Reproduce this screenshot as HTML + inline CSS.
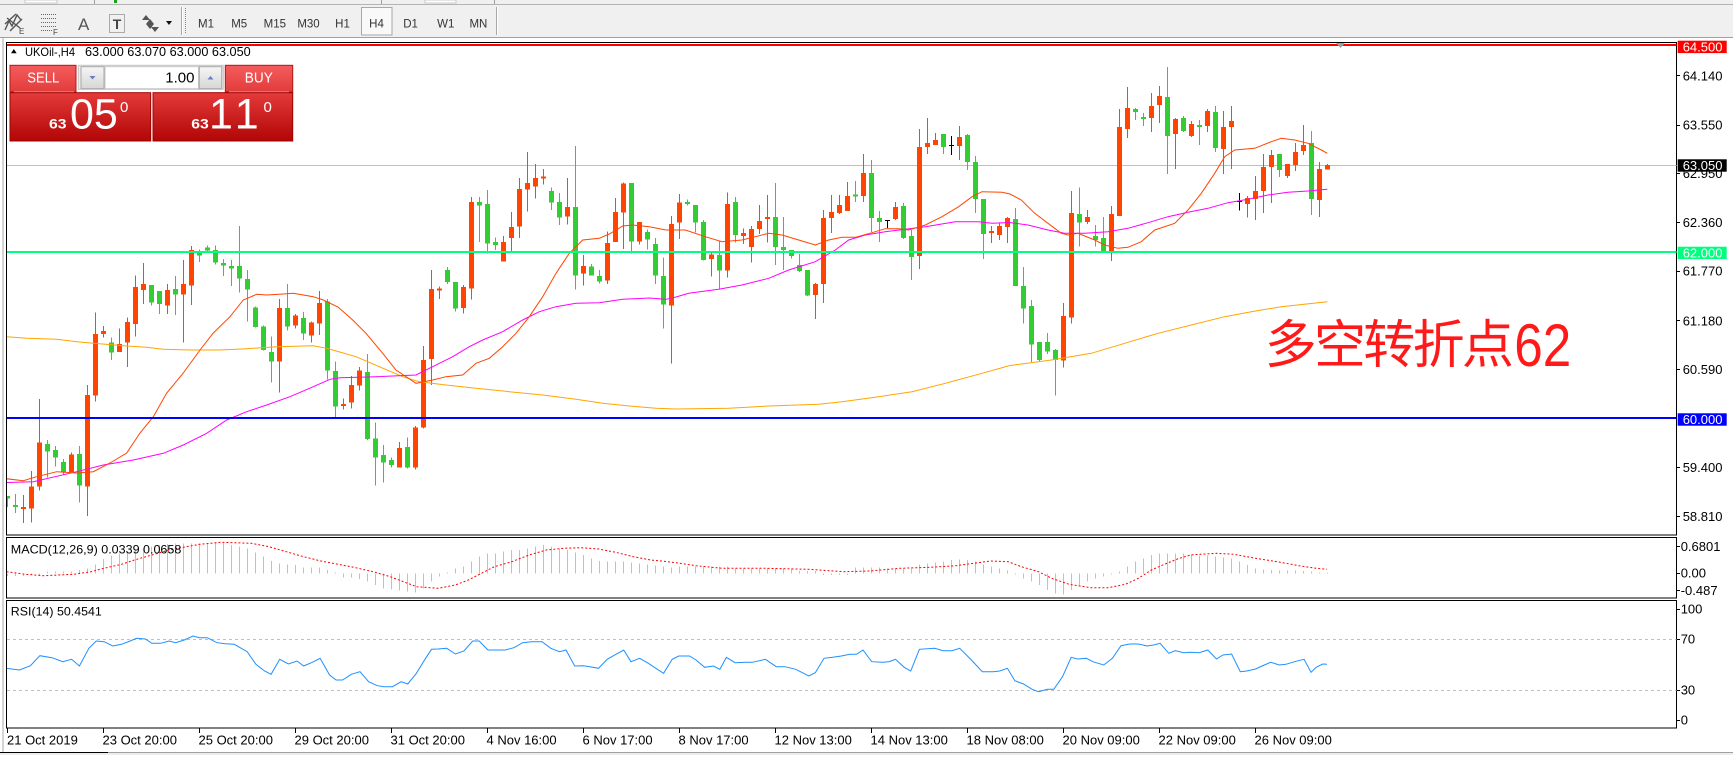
<!DOCTYPE html>
<html><head><meta charset="utf-8"><style>
html,body{margin:0;padding:0;background:#fff}
body{width:1733px;height:755px;overflow:hidden}
svg text{font-family:"Liberation Sans",sans-serif}
</style></head><body>
<svg width="1733" height="755" viewBox="0 0 1733 755" xmlns="http://www.w3.org/2000/svg">
<defs>
<clipPath id="cm"><rect x="7" y="43" width="1669.5" height="492"/></clipPath>
<clipPath id="cd"><rect x="7" y="538" width="1669.5" height="59.5"/></clipPath>
<clipPath id="cr"><rect x="7" y="601" width="1669.5" height="127"/></clipPath>
<linearGradient id="gTop" x1="0" y1="0" x2="0" y2="1"><stop offset="0" stop-color="#f55c5c"/><stop offset="1" stop-color="#e23c3c"/></linearGradient>
<linearGradient id="gLow" x1="0" y1="0" x2="0" y2="1"><stop offset="0" stop-color="#e43a3a"/><stop offset="1" stop-color="#b20606"/></linearGradient>
<linearGradient id="gBtn" x1="0" y1="0" x2="0" y2="1"><stop offset="0" stop-color="#f6f6f6"/><stop offset="1" stop-color="#d6d6d6"/></linearGradient>
</defs>

<!-- toolbar -->
<rect x="0" y="0" width="1733" height="37" fill="#f0f0f0"/>
<rect x="0" y="4" width="1733" height="1" fill="#b4b4b4"/>
<rect x="25" y="0" width="32" height="3" fill="#fff" stroke="#c8c8c8" stroke-width="1"/>
<rect x="425" y="0" width="31" height="3" fill="#fff" stroke="#c8c8c8" stroke-width="1"/>
<rect x="114" y="0" width="3" height="3" fill="#20a020"/>
<g stroke="#a0a0a0" stroke-width="1"><path d="M94.5 0V4M381.5 0V4M494.5 0V4"/></g>
<rect x="0" y="37" width="1733" height="1" fill="#a0a0a0"/>
<!-- icons -->
<g stroke="#555" stroke-width="1.4" fill="none">
<polyline points="5,30 9,21 12,26 17,15 21,20"/>
<path d="M7 18L20 28M5 24L16 14M10 31L22 19"/>
</g>
<text x="19" y="34" font-size="8" fill="#444">E</text>
<g stroke="#666" stroke-width="1" stroke-dasharray="1 1"><path d="M41 14.5H56M41 18.5H56M41 22.5H56M41 26.5H56M41 30.5H53"/></g>
<text x="53" y="35" font-size="8" fill="#444">F</text>
<text x="78" y="30" font-size="17" fill="#555">A</text>
<rect x="109.5" y="14.5" width="15" height="18" fill="none" stroke="#666" stroke-dasharray="1 1"/>
<text x="117" y="29" font-size="14" font-weight="bold" fill="#444" text-anchor="middle">T</text>
<polygon points="146,15 150,20 142,20" fill="#555"/>
<polygon points="146,24 150,19 154,24 150,29" fill="#555"/>
<polygon points="155,32 159,27 151,27" fill="#555"/>
<polygon points="166,21 172,21 169,25" fill="#111"/>
<rect x="181" y="7" width="1" height="28" fill="#a8a8a8"/><rect x="182" y="7" width="1" height="28" fill="#fff"/>
<path d="M185.5 8V34" stroke="#888" stroke-dasharray="1 1"/>
<rect x="361.5" y="7.5" width="30.5" height="27.5" fill="#f9f9f9" stroke="#a8a8a8"/>
<g font-size="11.5" fill="#333" text-anchor="middle">
<text x="206" y="27.3">M1</text><text x="239.2" y="27.3">M5</text><text x="274.8" y="27.3">M15</text>
<text x="308.5" y="27.3">M30</text><text x="342.5" y="27.3">H1</text><text x="376.5" y="27.3">H4</text>
<text x="410.6" y="27.3">D1</text><text x="445.8" y="27.3">W1</text><text x="478.4" y="27.3">MN</text>
</g>
<rect x="496" y="7" width="1" height="28" fill="#a8a8a8"/><rect x="497" y="7" width="1" height="28" fill="#fff"/>

<!-- window frame -->
<rect x="2.5" y="38" width="1" height="715" fill="#a8a8a8"/>
<g fill="none" stroke="#000" stroke-width="1" shape-rendering="crispEdges">
<rect x="6.5" y="42.5" width="1670" height="492.5"/>
<rect x="6.5" y="537.5" width="1670" height="60.5"/>
<rect x="6.5" y="600.5" width="1670" height="127.5"/>
</g>

<!-- main chart -->
<g clip-path="url(#cm)">
<rect x="7" y="165" width="1670" height="1" fill="#c0c0c0"/>
<g shape-rendering="crispEdges" fill="none">
<path stroke="#ff4500" stroke-width="1" d="M23.5 495V523M31.5 471V522.7M39.5 399V490.7M71.5 452.7V472.7M87.5 385V516M95.5 312.7V401.7M103.5 326V337.3M119.5 328.7V352M127.5 317.3V367M135.5 275.7V336.7M143.5 263V304M167.5 284V314M183.5 260V342.7M191.5 246V305M279.5 299V392.7M295.5 314V328.7M311.5 321.3V342.7M319.5 291V335M343.5 398.3V409.3M351.5 376V408.3M359.5 367V390.7M399.5 442V467.7M415.5 426V469.3M423.5 346V428.3M431.5 270V385M439.5 286.7V299M463.5 285V313.7M471.5 197V299.7M503.5 236V261.7M511.5 212V251M519.5 178V238M527.5 152V211.7M535.5 164V198.7M543.5 169V184.7M567.5 178V224.7M583.5 255V285.7M607.5 231.3V284M615.5 198V242M623.5 182.7V249M639.5 222V244.7M671.5 216V363.7M679.5 194V239M711.5 252V276.7M727.5 192.3V277.7M743.5 228.3V244M751.5 226V262.7M759.5 205V234M767.5 195V242.7M815.5 283V319M823.5 210V303M831.5 195V233M839.5 195V214M847.5 182V211M863.5 154V202M895.5 202V220M919.5 129V269M927.5 118V154M935.5 133V145M959.5 126V160M991.5 226V243M999.5 223V240M1007.5 217V243M1063.5 303V367.7M1071.5 191V323.7M1087.5 210V224M1111.5 206V261M1119.5 109V216M1127.5 87V138M1151.5 93V132M1159.5 86V123M1175.5 118V169M1191.5 121V137M1207.5 109V132M1223.5 111V174M1231.5 106V169M1247.5 196V217.7M1255.5 176V220M1263.5 154V213M1271.5 150V203M1287.5 164V178M1295.5 143V171M1303.5 125V155M1319.5 162V217M1327.5 164V169.7"/>
<path stroke="#ff4500" stroke-width="5" d="M23.5 507V509M31.5 486.7V508.7M39.5 442.7V486.7M71.5 454.7V472M87.5 395V486.7M95.5 334V395.7M103.5 331V334M119.5 344V352M127.5 322V342.7M135.5 287V324M143.5 284V290M167.5 290V305.7M183.5 284V294.7M191.5 250V285.7M279.5 308V361.7M295.5 315.7V325.7M311.5 322.7V335.7M319.5 303V323.7M343.5 404V406M351.5 385V402.7M359.5 370.7V385.7M399.5 448V467.7M415.5 427.7V467.7M423.5 360V427.7M431.5 289V359M439.5 288.5V290.7M463.5 287V308M471.5 202V288.7M503.5 242V261.7M511.5 227V238M519.5 189V226.7M527.5 183V189.7M535.5 178V186.7M543.5 176.5V178.7M567.5 207V216.7M583.5 266V273.7M607.5 243V280.7M615.5 212V242M623.5 183.7V212.7M639.5 222V241.7M671.5 224V305.7M679.5 202.3V222.7M711.5 254.3V259M727.5 204V270.7M743.5 233V236M751.5 229V247M759.5 221V229M767.5 217V219M815.5 284V295M823.5 218V284M831.5 212V218M839.5 205V213M847.5 196V211M863.5 173V196M895.5 207V219M919.5 147V256M927.5 143V147M935.5 140V145M959.5 137V146M991.5 231V233M999.5 226V235M1007.5 218V227M1063.5 316V360.7M1071.5 213V317.7M1087.5 217V222M1111.5 214V252M1119.5 127V216M1127.5 108V129M1151.5 106V118M1159.5 96V105M1175.5 119V134M1191.5 124V136M1207.5 111V126M1223.5 127V149M1231.5 121V127M1247.5 198V204M1255.5 191V199M1263.5 167V191M1271.5 155V167M1287.5 164V176M1295.5 152V165M1303.5 145V151M1319.5 169V200M1327.5 165V169.7"/>
<path stroke="#32cd32" stroke-width="1" d="M7.5 496.7V507M15.5 494V513M47.5 440V477.3M55.5 446V466.7M63.5 459V475M79.5 446V502.7M111.5 337.7V360M151.5 285V305.7M159.5 291V314M175.5 276V315M199.5 249.3V262M207.5 245.3V251.3M215.5 245.3V264.7M223.5 259V276M231.5 260V286M239.5 226V292.7M247.5 270V321.7M255.5 306.7V327.7M263.5 325.7V350.7M271.5 336.7V382.7M287.5 284V330.7M303.5 312V340M327.5 299V379.3M335.5 361.7V418.3M367.5 354V440M375.5 422.7V485.7M383.5 445V482.7M391.5 457.3V467.7M407.5 437.7V468.3M447.5 267V284M455.5 282V311.7M479.5 197V242M487.5 190V253.7M495.5 237.3V250M551.5 187.7V210M559.5 193V225M575.5 146V289.7M591.5 264V275.7M599.5 270V283.3M631.5 183V253.7M647.5 229.7V249.7M655.5 238V284M663.5 257.7V328.7M687.5 199.3V205.7M695.5 205V232.3M703.5 220V260.7M719.5 241V289.3M735.5 197V242.3M775.5 183V265M783.5 217V270M791.5 250V258.3M799.5 254V272M807.5 270V296M855.5 181V202M871.5 160V232M879.5 211V242M903.5 203V239M911.5 230V280M943.5 134V154M967.5 134V170M975.5 156V213M983.5 199V259M1015.5 208V286M1023.5 267V323.7M1031.5 300V362M1039.5 342V361.7M1047.5 333V354M1055.5 349V395.7M1079.5 187.7V246.7M1095.5 225V246.7M1103.5 217V253M1135.5 108V120M1143.5 113V126M1167.5 67V174M1183.5 116V132M1199.5 120V145M1215.5 106V152M1279.5 154V177M1311.5 131V215"/>
<path stroke="#32cd32" stroke-width="5" d="M7.5 496V498.5M15.5 505V507M47.5 444V451.7M55.5 450V457.7M63.5 462V472M79.5 454V485.3M111.5 342.7V352.7M151.5 285V302.7M159.5 291V304M175.5 289V294.7M199.5 251.3V255.7M207.5 247.3V250.7M215.5 250V262.7M223.5 263V265.7M231.5 266V268.7M239.5 266V278.7M247.5 279V289.7M255.5 307.7V327M263.5 326.7V350M271.5 352V361.7M287.5 308V326.7M303.5 318V333.7M327.5 301.7V370.7M335.5 371V406.7M367.5 372V439M375.5 438.3V457.7M383.5 455V462.7M391.5 460V465M407.5 447V467.7M447.5 270V282M455.5 282V308.7M479.5 202V205.7M487.5 204V243.7M495.5 242V245M551.5 191V202.7M559.5 202V217.7M575.5 207V275.7M591.5 266.7V275.7M599.5 276V281.7M631.5 183V241.7M647.5 232V239.7M655.5 244V275.7M663.5 276V304.7M687.5 202V204M695.5 205V222.7M703.5 222V260M719.5 255V270.7M735.5 202V235M775.5 217V247M783.5 247V250M791.5 250V256M799.5 265V271M807.5 270V295.3M855.5 194.5V196.7M871.5 173V218M879.5 218V222M903.5 206V238M911.5 236V257M943.5 134V147M967.5 135V162M975.5 162V199M983.5 199V234M1015.5 219V286M1023.5 286V308.7M1031.5 306V344.7M1039.5 342V360M1047.5 342V351.7M1055.5 350V360M1079.5 214V222.7M1095.5 236V240M1103.5 238V252M1135.5 109V112M1143.5 117V119M1167.5 97V136M1183.5 118V131M1199.5 125V127M1215.5 112V148M1279.5 154V170M1311.5 143V199"/>
<path stroke="#000" stroke-width="1" d="M887.5 220V228M951.5 136V155M1239.5 193V210.7M885 220.5H890M949 145.5H954M1237 201.5H1242"/>
</g>
<g fill="none" stroke-width="1">
<polyline stroke="#ffa500" points="6.7,336.7 26.7,338.3 56.7,339.3 76.7,341.7 93.3,343.3 126.7,346 146.7,347.3 163.3,349.3 190,350 220,350 246.7,348.7 276.7,346.7 313.3,345.7 326.7,348.3 338,351.5 356,356.7 379.3,366.7 402.7,376.7 419.3,381.7 446,385 476,388.3 509.3,391.7 542.7,395 576,399.3 602.7,403.3 629.3,406 656,408.3 676,409 728.7,408.3 768.7,406 818.7,404.3 842,401.7 878.7,396.7 912,391.7 945.3,383.3 982,373.3 1010,365.5 1051.3,360 1091.3,353.3 1124.7,343.3 1158,333.3 1191.3,325 1224.7,316.7 1251.3,311.7 1281.3,306.7 1327.3,301.7"/>
<polyline stroke="#ff00ff" points="0,482.7 33.3,481.7 76.7,471.7 103.3,465 133.3,460 163.3,453.3 183.3,445 206.7,433.3 226.7,420 246.7,411.7 266.7,405 290,396.7 313.3,386.7 330,379.3 340,377.7 376,376.7 416,375 432.7,366.7 452.7,356.7 469.3,346.7 482.7,340 502.7,331.7 522.7,320 539.3,311.7 556,306.7 576,303.3 599.3,302.7 622.7,299.3 649.3,298 666,299.3 676,297 688.7,293.3 718.7,289.3 742,285 768.7,278.3 788.7,270 815.3,261.7 835.3,250 848.7,240 865.3,235 885.3,231.7 905.3,229.3 925.3,226.7 955.3,221.7 978.7,221.7 992,223.3 1010,222.5 1028,225 1048,230 1064.7,233.3 1084.7,233.3 1108,231.7 1128,228.3 1148,222.7 1168,216.7 1188,212.3 1208,208.3 1228,202.7 1248,199.3 1268,195 1288,192.3 1308,191 1327.3,189.3"/>
<polyline stroke="#ff4500" points="0,478 23.3,480.7 36.7,476.7 56.7,471.7 76.7,473 93.3,471.7 110,463 126.7,453 140,433 153.3,416.7 166.7,393 183.3,373 200,350 213.3,333 230,316.7 243.3,300 256.7,294.3 266.7,295 283.3,294 293.3,293.3 303.3,295 313.3,296.7 323.3,300 338,307 352.7,320 366,333.3 382.7,353.3 396,370 416,383.3 432.7,380 446,376.7 462.7,375 476,363.3 489.3,358.3 502.7,346.7 516,333.3 529.3,316.7 542.7,296.7 556,273.3 569.3,253.3 582.7,240 599.3,238.3 609.3,234 622.7,226 632.7,225 649.3,226.7 666,230 685.3,230 705.3,236.7 722,241.7 742,240 755.3,236.7 768.7,233.3 782,235 798.7,240 815.3,245 828.7,240 842,237.3 855.3,237.3 872,232.7 885.3,228.7 898.7,228.7 908.7,230 925.3,225 942,216.7 958.7,206.7 972,196.7 982,191.7 1002,192.3 1010,194 1021.3,200 1034.7,213.3 1048,223.3 1061.3,233.3 1068,235 1078,233.3 1094.7,240 1104.7,245 1118,248.3 1128,247.3 1141.3,241.7 1154.7,230 1174.7,223.3 1188,210 1201.3,193.3 1214.7,173.3 1224.7,156.7 1234.7,150 1254.7,148.3 1271.3,141.7 1281.3,138.3 1294.7,140 1308,143.3 1321.3,150 1327.3,153.3"/>
</g>
<g shape-rendering="crispEdges">
<rect x="7" y="44" width="1670" height="2" fill="#ff0000"/>
<rect x="7" y="251" width="1670" height="2" fill="#00ff7f"/>
<rect x="7" y="417" width="1670" height="2" fill="#0000ff"/>
</g>
<polygon points="1336,43 1345,43 1340.5,48" fill="#a0a0a0"/>
</g>

<!-- header & one-click panel -->
<polygon points="11,53.3 16.7,53.3 13.85,49" fill="#000"/>
<text x="25" y="56" font-size="12" textLength="50" lengthAdjust="spacingAndGlyphs">UKOil-,H4</text>
<text x="85" y="56" font-size="12.5" textLength="165.7" lengthAdjust="spacingAndGlyphs">63.000 63.070 63.000 63.050</text>

<rect x="10" y="65.3" width="66" height="26.7" fill="url(#gTop)" stroke="#b01818" stroke-width="1"/>
<rect x="225.3" y="65.3" width="67.4" height="26.7" fill="url(#gTop)" stroke="#b01818" stroke-width="1"/>
<rect x="14" y="91.5" width="60" height="1" fill="#f4a0a0"/>
<rect x="229" y="91.5" width="60" height="1" fill="#f4a0a0"/>
<rect x="10" y="92.7" width="140.7" height="48.3" fill="url(#gLow)" stroke="#a00000" stroke-width="1"/>
<rect x="153" y="92.7" width="139.7" height="48.3" fill="url(#gLow)" stroke="#a00000" stroke-width="1"/>
<rect x="78.3" y="65.3" width="145" height="24" fill="#ececec" stroke="#c4c4c4" stroke-width="1"/>
<rect x="105" y="66.7" width="93.5" height="22" fill="#fff" stroke="#c8c8c8" stroke-width="1"/>
<rect x="81" y="66.7" width="23" height="22" fill="url(#gBtn)" stroke="#a8a8a8" stroke-width="1"/>
<rect x="199.3" y="66.7" width="22.4" height="22" fill="url(#gBtn)" stroke="#a8a8a8" stroke-width="1"/>
<polygon points="89.5,76 95.5,76 92.5,79.5" fill="#6a7cc0"/>
<polygon points="207.5,79.5 213.5,79.5 210.5,76" fill="#6a7cc0"/>
<text x="194.5" y="82.7" font-size="15" text-anchor="end">1.00</text>
<text x="27.3" y="82.7" font-size="14.5" fill="#fff" textLength="32" lengthAdjust="spacingAndGlyphs">SELL</text>
<text x="244.8" y="82.7" font-size="14.5" fill="#fff" textLength="28" lengthAdjust="spacingAndGlyphs">BUY</text>
<g fill="#fff">
<text x="49" y="128.7" font-size="13.5" font-weight="bold" textLength="17.5" lengthAdjust="spacingAndGlyphs">63</text>
<text x="70" y="128.7" font-size="43">05</text>
<text x="120" y="112" font-size="15">0</text>
<text x="191.3" y="128.7" font-size="13.5" font-weight="bold" textLength="17.5" lengthAdjust="spacingAndGlyphs">63</text>
<text x="209" y="128.7" font-size="43" letter-spacing="5">11</text>
<text x="263.5" y="112" font-size="15">0</text>
</g>

<!-- chinese annotation -->
<text x="1264.7" y="363" font-size="52" letter-spacing="-2.7" fill="#ff1a1a" style='font-family:"Noto Sans CJK SC","WenQuanYi Zen Hei",sans-serif'>多空转折点</text>
<text x="1514.3" y="366" font-size="60" fill="#ff1a1a" textLength="57" lengthAdjust="spacingAndGlyphs">62</text>

<!-- right price axis -->
<g stroke="#000" stroke-width="1" shape-rendering="crispEdges">
<path d="M1677 75.5H1680M1677 125.5H1680M1677 173.5H1680M1677 222.5H1680M1677 271.5H1680M1677 320.5H1680M1677 369.5H1680M1677 467.5H1680M1677 516.5H1680"/>
<path d="M1677 546.5H1680M1677 573.5H1680M1677 590.5H1680M1677 609.5H1680M1677 639.5H1680M1677 690.5H1680M1677 720.5H1680"/>
</g>
<g font-size="13" fill="#000">
<text x="1682.7" y="80.3">64.140</text>
<text x="1682.7" y="129.6">63.550</text>
<text x="1682.7" y="177.9">62.950</text>
<text x="1682.7" y="226.9">62.360</text>
<text x="1682.7" y="275.6">61.770</text>
<text x="1682.7" y="325.3">61.180</text>
<text x="1682.7" y="373.9">60.590</text>
<text x="1682.7" y="471.9">59.400</text>
<text x="1682.7" y="520.9">58.810</text>
<text x="1680.7" y="551">0.6801</text>
<text x="1680.7" y="577.5">0.00</text>
<text x="1680.7" y="595">-0.487</text>
<text x="1680.7" y="613.5">100</text>
<text x="1680.7" y="643.3">70</text>
<text x="1680.7" y="694.5">30</text>
<text x="1680.7" y="724.3">0</text>
</g>
<rect x="1677.7" y="40.7" width="49" height="12.4" fill="#ff0000"/>
<rect x="1677.7" y="159.3" width="49" height="12.4" fill="#000"/>
<rect x="1677.7" y="246.7" width="49" height="12.4" fill="#00ff7f"/>
<rect x="1677.7" y="413.3" width="49" height="12.4" fill="#0000ff"/>
<g font-size="13" fill="#fff">
<text x="1682.7" y="51.3">64.500</text>
<text x="1682.7" y="169.9">63.050</text>
<text x="1682.7" y="257.3">62.000</text>
<text x="1682.7" y="424">60.000</text>
</g>

<!-- MACD -->
<g clip-path="url(#cd)">
<path fill="none" stroke="#c0c0c0" stroke-width="1" shape-rendering="crispEdges" d="M7.5 573.3V576M15.5 573.3V576M23.5 573.3V576M31.5 573.3V575M39.5 573.3V575M47.5 573.3V571.5M55.5 573.3V571.5M63.5 573.3V571.5M71.5 573.3V571.5M79.5 573.3V570M87.5 573.3V568.3M95.5 573.3V564.3M103.5 573.3V559M111.5 573.3V555.7M119.5 573.3V553.3M127.5 573.3V551.7M135.5 573.3V550M143.5 573.3V548.3M151.5 573.3V546.7M159.5 573.3V545M167.5 573.3V544M175.5 573.3V543.3M183.5 573.3V543.3M191.5 573.3V543.3M199.5 573.3V543.3M207.5 573.3V543M215.5 573.3V542.7M223.5 573.3V543M231.5 573.3V545M239.5 573.3V546.7M247.5 573.3V548.3M255.5 573.3V552.3M263.5 573.3V556.7M271.5 573.3V561M279.5 573.3V563.3M287.5 573.3V564.3M295.5 573.3V565M303.5 573.3V567.3M311.5 573.3V567.7M319.5 573.3V567.7M327.5 573.3V570M335.5 573.3V572.3M343.5 573.3V577.7M351.5 573.3V577.7M359.5 573.3V579M367.5 573.3V581.7M375.5 573.3V585M383.5 573.3V588.3M391.5 573.3V589.3M399.5 573.3V590.7M407.5 573.3V591.7M415.5 573.3V592.3M423.5 573.3V588.3M431.5 573.3V581.7M439.5 573.3V576.7M447.5 573.3V572.7M455.5 573.3V568.3M463.5 573.3V566.7M471.5 573.3V561.7M479.5 573.3V556.7M487.5 573.3V553.3M495.5 573.3V553.3M503.5 573.3V551.7M511.5 573.3V550M519.5 573.3V550M527.5 573.3V548.3M535.5 573.3V546.7M543.5 573.3V545M551.5 573.3V546.7M559.5 573.3V548.3M567.5 573.3V550M575.5 573.3V552.3M583.5 573.3V555M591.5 573.3V558.3M599.5 573.3V561M607.5 573.3V561.7M615.5 573.3V561.7M623.5 573.3V561.7M631.5 573.3V562.3M639.5 573.3V563.3M647.5 573.3V564.3M655.5 573.3V565.7M663.5 573.3V566.7M671.5 573.3V567.7M679.5 573.3V566.7M687.5 573.3V566.7M695.5 573.3V566.7M703.5 573.3V566.7M711.5 573.3V566.7M719.5 573.3V566.7M727.5 573.3V566.7M735.5 573.3V568.3M743.5 573.3V568.3M751.5 573.3V568.3M759.5 573.3V568.3M767.5 573.3V568.3M775.5 573.3V568.3M783.5 573.3V568.3M791.5 573.3V568.3M799.5 573.3V571M807.5 573.3V571M815.5 573.3V571M823.5 573.3V575M831.5 573.3V575M839.5 573.3V575M847.5 573.3V575M855.5 573.3V567.3M863.5 573.3V567.3M871.5 573.3V567.3M879.5 573.3V567.3M887.5 573.3V568.3M895.5 573.3V568.3M903.5 573.3V568.3M911.5 573.3V568.3M919.5 573.3V564.3M927.5 573.3V563.3M935.5 573.3V562.3M943.5 573.3V561.7M951.5 573.3V560M959.5 573.3V559.7M967.5 573.3V560M975.5 573.3V561.7M983.5 573.3V564.3M991.5 573.3V566.7M999.5 573.3V568.3M1007.5 573.3V570.7M1015.5 573.3V574.5M1023.5 573.3V578.3M1031.5 573.3V581.7M1039.5 573.3V585M1047.5 573.3V590M1055.5 573.3V593.3M1063.5 573.3V594.3M1071.5 573.3V590M1079.5 573.3V585M1087.5 573.3V581.7M1095.5 573.3V578.3M1103.5 573.3V576.7M1111.5 573.3V574.3M1119.5 573.3V571.7M1127.5 573.3V566.7M1135.5 573.3V561.7M1143.5 573.3V558.3M1151.5 573.3V555M1159.5 573.3V553.3M1167.5 573.3V553.3M1175.5 573.3V553.3M1183.5 573.3V553.3M1191.5 573.3V554.3M1199.5 573.3V555.7M1207.5 573.3V555.7M1215.5 573.3V556.7M1223.5 573.3V557.7M1231.5 573.3V558.3M1239.5 573.3V561.7M1247.5 573.3V565M1255.5 573.3V568.3M1263.5 573.3V569.3M1271.5 573.3V570M1279.5 573.3V570.7M1287.5 573.3V570.3M1295.5 573.3V570.7M1303.5 573.3V571M1311.5 573.3V571.7M1319.5 573.3V572.3M1327.5 573.3V572.3"/>
<polyline fill="none" stroke="#ff0000" stroke-width="1" stroke-dasharray="2 2" points="6.5,571.7 26,574.3 43.4,575.7 73.7,574.3 91,571.7 104,568.3 121.4,564.3 134.4,560 151.8,555 169,550 186.5,546.7 199.5,544.3 221.2,542.3 251.5,543.3 268.9,546.7 286.2,551.7 303.6,556.7 320.9,561 338.3,564.3 355.6,567.7 373,571.7 390.3,576.7 403.3,581.7 416.8,586.7 438,588.3 455.4,585 468.4,580 481.4,573.3 494.4,566.7 511.8,561.7 529.1,555 546.4,550 563.8,548.3 581.2,547.7 598.5,549 615.8,552.3 633.2,556.7 650.5,560 668,561.7 680,563.3 696,565.7 722,568.3 765.4,568.3 808.8,569.3 843.5,571.7 869.5,571 899.9,568.3 930.2,567.3 956.2,565.7 973.6,563.3 991,561 1008.3,561.7 1021.3,566.7 1038.6,571.7 1051.7,578.3 1069,584.3 1090.7,587.7 1108,587.7 1125.4,584.3 1138.4,578.3 1151.4,570 1164.4,564.3 1177.4,559 1190.4,555 1216.4,553.3 1233.8,554.3 1255.5,558.3 1277.2,561.7 1298.9,565.7 1316.2,568.3 1327,569.3"/>
</g>
<text x="10.8" y="553.3" font-size="12" textLength="170.5" lengthAdjust="spacingAndGlyphs">MACD(12,26,9) 0.0339 0.0658</text>

<!-- RSI -->
<g clip-path="url(#cr)">
<path d="M7 639.5H1677M7 690.5H1677" stroke="#c0c0c0" stroke-width="1" stroke-dasharray="3 3" fill="none"/>
<polyline fill="none" stroke="#1e90ff" stroke-width="1" points="6.5,668.3 19.5,670 30.4,665.7 39.9,655.7 52,657.7 62.9,661.7 71.6,659.3 79.4,666 88.9,648.3 96.3,641 104.1,641.7 112.8,646 121.4,644.3 130.1,641 136.6,638.3 145.3,639 151.8,643.3 160.5,643.3 169.1,641 175.6,642.7 184.3,640 193,636 199.5,637.7 207.3,637.7 216.9,642.7 225.5,643.7 234.2,644.3 247.2,651.7 255.9,664.3 264.6,671 271.1,674.3 279.7,659.3 288.4,664 297.1,661 303.6,666 312.3,662.3 320.1,658.3 329.6,675 336.1,680 342.6,680 351.3,674.3 360,671.7 368.6,681.7 377.3,685.7 383.8,686.7 392.5,686.7 401.2,681.7 407.7,684 416.4,673.3 425,659.3 431.5,649.3 438,649 446.7,648.3 455.4,654 464,651 472.7,641 479.2,641 487.9,650 496.6,650 505.3,650 513.9,647.7 522.6,642.7 531.3,641.7 542.1,641.7 550.8,648.3 559.5,651.7 566,650 574.7,666 583.3,665.7 589.8,666.7 598.5,668.3 607.2,659.3 615.9,654.3 623.7,650 631,661.7 639.7,658.3 648.4,663.3 654.9,667.7 663.6,673.3 672.2,659.3 678.7,656 689.5,656 696,660 704.7,667.3 713.4,666 719.9,669.3 726.4,657.3 735.1,662.7 745.9,662.3 752.4,662.3 765.4,659.3 776.3,666.7 784.9,666.7 795.8,669.3 808.8,676 815.3,672.7 824,658.3 832.6,657.3 841.3,656 850,654.3 856.5,654.3 863,650 871.7,661.7 882.5,662.3 889,661.7 895.5,659.3 904.2,667.3 910.7,671 919.4,649.3 934.6,648.3 943.2,650.7 951.9,650.7 959.7,648.3 971.4,660 982.3,671.7 993.1,671.7 999.6,671 1007.4,668.3 1014.8,680.7 1023.5,684 1032.1,689.3 1038.6,691.7 1047.3,689.3 1053.8,689.3 1062.5,676.7 1071.2,657.3 1077.7,659 1086.4,658.3 1092.9,661.7 1103.7,665 1112.4,658.3 1121,645.7 1129.7,644 1138.4,644 1147.1,646 1153.6,645 1160.1,643.3 1168.8,653.3 1175.3,650.7 1183.9,652.7 1190.4,652.3 1199.1,652.7 1207.8,650 1216.5,659 1223,655 1231.6,654 1240.3,671.7 1246.8,671 1255.5,669 1262,666 1270.7,662.3 1279.3,665 1285.9,664.3 1294.5,661.7 1304.1,659.3 1311,672.3 1316.2,667.3 1322.7,664 1327,664.3"/>
</g>
<text x="10.8" y="615.7" font-size="12" textLength="91" lengthAdjust="spacingAndGlyphs">RSI(14) 50.4541</text>

<!-- time axis -->
<path d="M7.5 728V733M103.5 728V733M199.5 728V733M295.5 728V733M391.5 728V733M487.5 728V733M583.5 728V733M679.5 728V733M775.5 728V733M871.5 728V733M967.5 728V733M1063.5 728V733M1159.5 728V733M1255.5 728V733" stroke="#000" stroke-width="1" shape-rendering="crispEdges"/>
<g font-size="13" fill="#000">
<text x="7" y="744.3">21 Oct 2019</text>
<text x="102.5" y="744.3">23 Oct 20:00</text>
<text x="198.5" y="744.3">25 Oct 20:00</text>
<text x="294.5" y="744.3">29 Oct 20:00</text>
<text x="390.5" y="744.3">31 Oct 20:00</text>
<text x="486.5" y="744.3">4 Nov 16:00</text>
<text x="582.5" y="744.3">6 Nov 17:00</text>
<text x="678.5" y="744.3">8 Nov 17:00</text>
<text x="774.5" y="744.3">12 Nov 13:00</text>
<text x="870.5" y="744.3">14 Nov 13:00</text>
<text x="966.5" y="744.3">18 Nov 08:00</text>
<text x="1062.5" y="744.3">20 Nov 09:00</text>
<text x="1158.5" y="744.3">22 Nov 09:00</text>
<text x="1254.5" y="744.3">26 Nov 09:00</text>
</g>
<rect x="0" y="752" width="1733" height="3" fill="#ececec"/>
<rect x="0" y="752" width="1733" height="1" fill="#a0a0a0"/>
<rect x="0" y="752" width="108" height="1" fill="#000"/>
</svg>
</body></html>
